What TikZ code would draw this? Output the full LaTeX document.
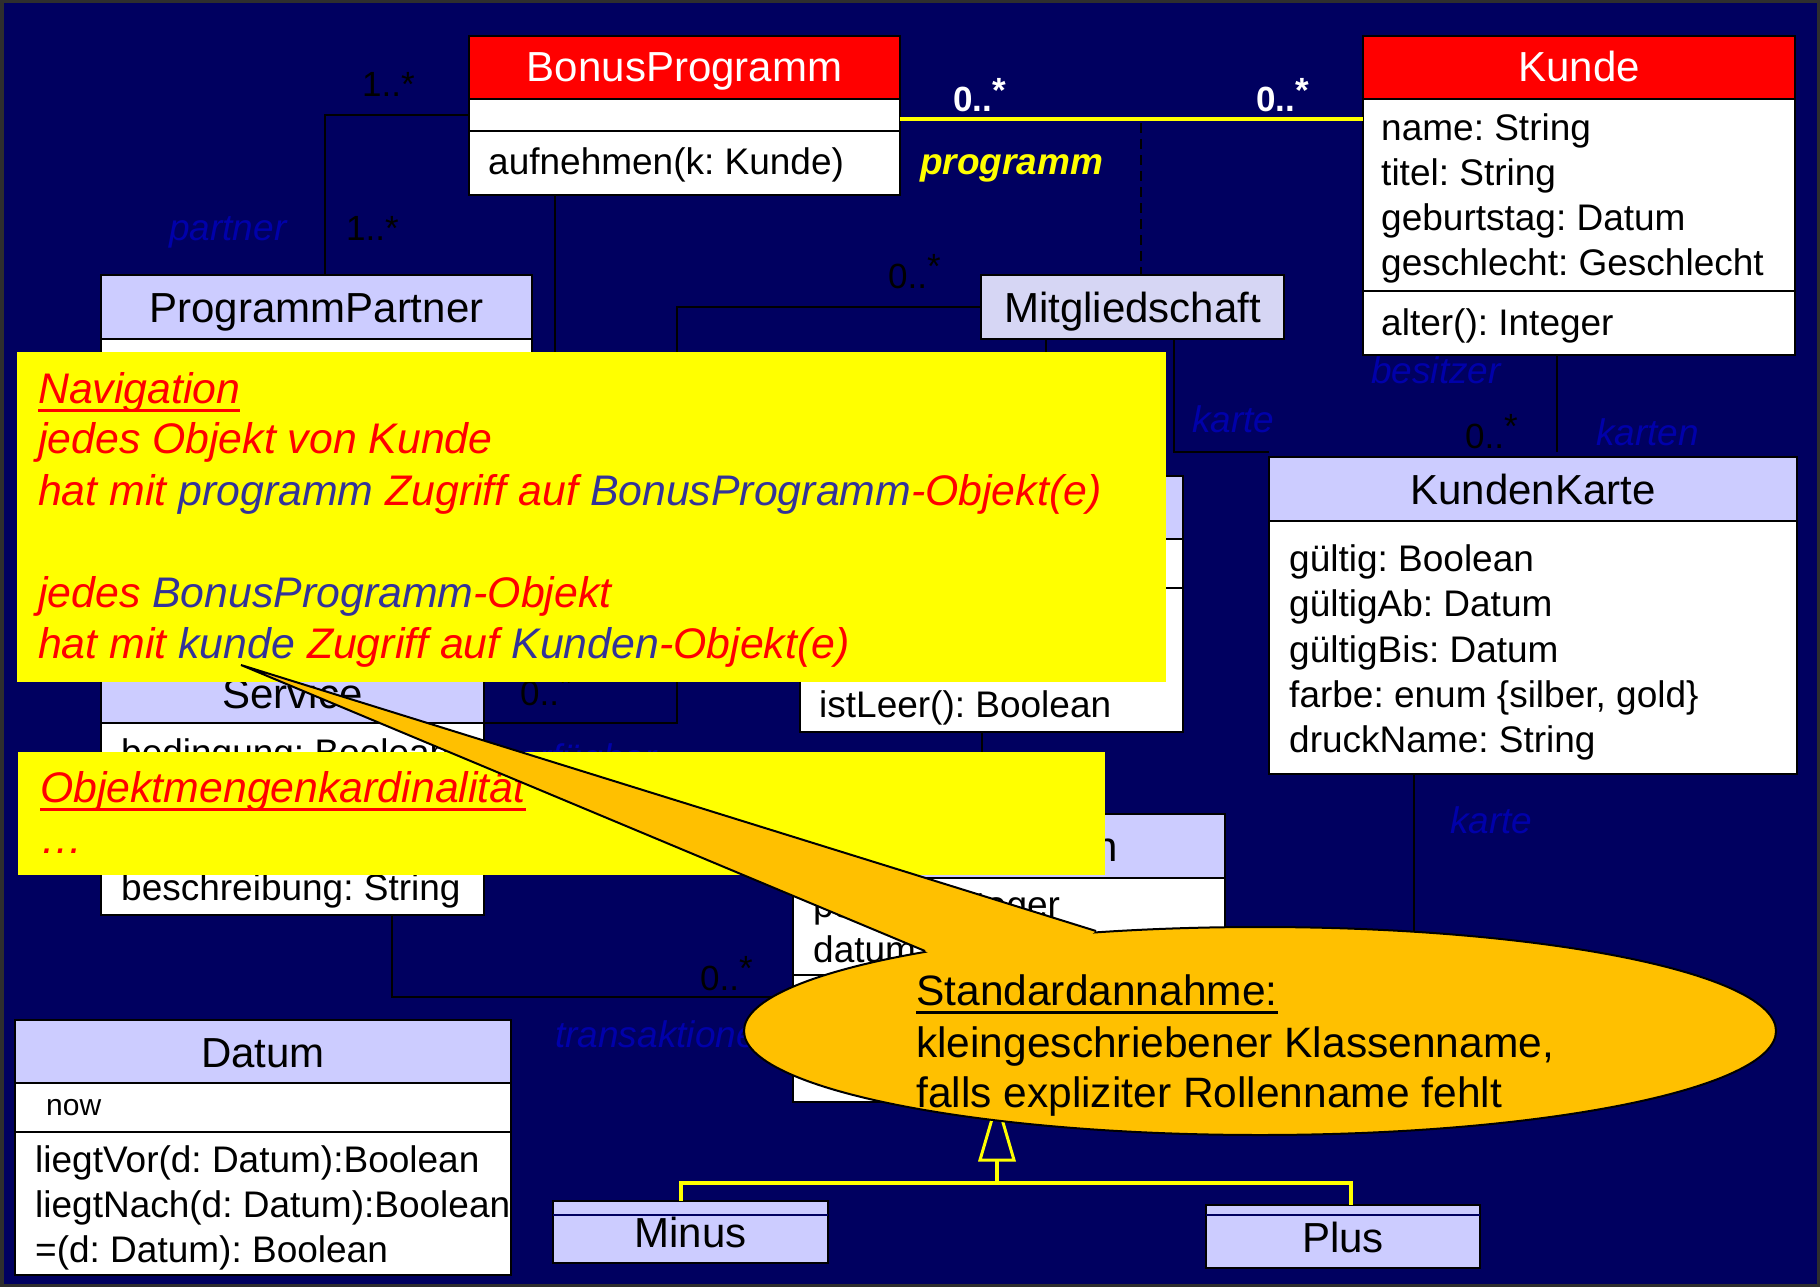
\documentclass[tikz,border=0pt]{standalone}
\usepackage{fontspec}
\setmainfont{Liberation Sans}
\usetikzlibrary{calc,shapes.geometric}
\frenchspacing

\definecolor{navy}{HTML}{000060}
\definecolor{hdrblue}{HTML}{CCCCFF}
\definecolor{mgblue}{HTML}{D6D6F4}
\definecolor{rolecol}{HTML}{0000AA}
\definecolor{txtblue}{HTML}{333399}
\definecolor{callout}{HTML}{FFC000}
\definecolor{notey}{HTML}{FFFF00}

% font size with tight leading
\newcommand{\fs}[1]{\fontsize{#1}{#1}\selectfont}
% thick underline in the current colour
\newcommand{\myul}[1]{\setbox0\hbox{#1}\rlap{\rule[-9pt]{\wd0}{3.5pt}}\box0}
% raised multiplicity star
\newcommand{\rs}{\raisebox{0.28em}{*}}
% one compartment of a class box: name, x, y, width, height, fill
\newcommand{\umlpart}[6]{\node[comp, fill=#6, minimum width=#4pt, minimum height=#5pt] (#1) at (#2,#3) {};}

\tikzset{
  comp/.style={draw=black, line width=2.5pt, anchor=north west, inner sep=0pt, outer sep=0pt},
  cname/.style={anchor=base, inner sep=0pt, font=\fs{42}},
  attr/.style={anchor=base west, inner sep=0pt, font=\fs{37}},
  mult/.style={anchor=base west, inner sep=0pt, font=\fs{35}},
  role/.style={anchor=base west, inner sep=0pt, font=\fs{37}\itshape, text=rolecol},
  assoc/.style={draw=black, line width=2.5pt},
  gen/.style={draw=notey, line width=4pt},
  note/.style={fill=notey, anchor=north west, inner sep=0pt, outer sep=0pt},
  notetxt/.style={anchor=base west, inner sep=0pt, font=\fs{42.8}\itshape, text=red},
  calltxt/.style={anchor=base west, inner sep=0pt, font=\fs{42.5}, text=black},
}

\begin{document}
\begin{tikzpicture}[x=1pt, y=-1pt]
\useasboundingbox (0,0) rectangle (1820,1287);
\fill[navy] (0,0) rectangle (1820,1287);
\draw[line width=7pt, black!82] (0,0) rectangle (1820,1287);

% ---------- classes ----------
% BonusProgramm
\umlpart{bpH}{469}{36}{431}{63}{red}
\umlpart{bpA}{469}{99}{431}{32}{white}
\umlpart{bpO}{469}{131}{431}{64}{white}
\node[cname, text=white] (bpN) at (684.5,82) {BonusProgramm};
\node[attr] (bpOp) at (488,175) {aufnehmen(k: Kunde)};

% Kunde
\umlpart{kuH}{1363}{36}{432}{63}{red}
\umlpart{kuA}{1363}{99}{432}{192}{white}
\umlpart{kuO}{1363}{291}{432}{64}{white}
\node[cname, text=white] (kuN) at (1579,82) {Kunde};
\node[attr] (kuA1) at (1381,140) {name: String};
\node[attr] (kuA2) at (1381,185) {titel: String};
\node[attr] (kuA3) at (1381,230) {geburtstag: Datum};
\node[attr] (kuA4) at (1381,275) {geschlecht: Geschlecht};
\node[attr] (kuOp) at (1381,335) {alter(): Integer};

% ProgrammPartner
\umlpart{ppH}{101}{275}{431}{64}{hdrblue}
\umlpart{ppA}{101}{339}{431}{120}{white}
\node[cname] (ppN) at (316.5,322) {ProgrammPartner};

% Mitgliedschaft
\umlpart{mg}{981}{275}{303}{64}{mgblue}
\node[cname] (mgN) at (1132.5,322) {Mitgliedschaft};

% class with istLeer()
\umlpart{pkH}{800}{476}{383}{63}{hdrblue}
\umlpart{pkA}{800}{539}{383}{49}{white}
\umlpart{pkO}{800}{588}{383}{144}{white}
\node[attr] (pkOp) at (819,717) {istLeer(): Boolean};

% KundenKarte
\umlpart{kkH}{1269}{457}{528}{64}{hdrblue}
\umlpart{kkA}{1269}{521}{528}{253}{white}
\node[cname] (kkN) at (1533,504) {KundenKarte};
\node[attr] (kkA1) at (1289,571) {gültig: Boolean};
\node[attr] (kkA2) at (1289,616) {gültigAb: Datum};
\node[attr] (kkA3) at (1289,662) {gültigBis: Datum};
\node[attr] (kkA4) at (1289,707) {farbe: enum \{silber, gold\}};
\node[attr] (kkA5) at (1289,752) {druckName: String};

% Service
\umlpart{svH}{101}{660}{383}{63}{hdrblue}
\umlpart{svA}{101}{723}{383}{192}{white}
\node[cname] (svN) at (292.5,708) {Service};
\node[attr] (svA1) at (121,765) {bedingung: Boolean};
\node[attr] (svA2) at (121,900) {beschreibung: String};

% Transaktion
\umlpart{trH}{793}{814}{432}{64}{hdrblue}
\umlpart{trA}{793}{878}{432}{97}{white}
\umlpart{trO}{793}{975}{432}{127}{white}
\node[cname] (trN) at (1009,861) {Transaktion};
\node[attr] (trA1) at (813,917) {punkte: Integer};
\node[attr] (trA2) at (813,962) {datum: Datum};

% Datum
\umlpart{dtH}{15}{1020}{496}{63}{hdrblue}
\umlpart{dtA}{15}{1083}{496}{49}{white}
\umlpart{dtO}{15}{1132}{496}{143}{white}
\node[cname] (dtN) at (263,1067) {Datum};
\node[attr, font=\fs{30}] (dtAt) at (46,1115) {now};
\node[attr] (dtO1) at (35,1172) {liegtVor(d: Datum):Boolean};
\node[attr] (dtO2) at (35,1217) {liegtNach(d: Datum):Boolean};
\node[attr] (dtO3) at (35,1262) {=(d: Datum): Boolean};

% Minus / Plus
\umlpart{mi}{553}{1201}{275}{62}{hdrblue}
\draw[navy, line width=1.5pt] ([yshift=-14pt]mi.north west) -- ([yshift=-14pt]mi.north east);
\node[cname] (miN) at (690.5,1247) {Minus};
\umlpart{pl}{1206}{1205}{274}{63}{hdrblue}
\draw[navy, line width=1.5pt] ([yshift=-10pt]pl.north west) -- ([yshift=-10pt]pl.north east);
\node[cname] (plN) at (1343,1252) {Plus};

% ---------- associations ----------
\draw[assoc] (bpA.west) -| ([xshift=224pt]ppH.north west);
\coordinate (bpDown) at ([xshift=86pt]bpO.south west);
\coordinate (bpEnd) at (555,560);
\draw[assoc] (bpDown) -- (bpEnd);

\draw[notey, line width=4.5pt] ([yshift=-4pt]bpA.east) -- ([yshift=-4pt]bpA.east -| kuA.west);
\coordinate (progMid) at (1141,123);
\draw[black, line width=2pt, dash pattern=on 10pt off 6pt] (progMid) -- (progMid |- mg.north);

\draw[assoc] (mg.west) -| ([xshift=193pt]svA.north east) -- (svA.north east);
\coordinate (m1) at ([xshift=65pt]mg.south west);
\draw[assoc] (m1) -- (m1 |- pkH.north);
\coordinate (m2) at ([xshift=193pt]mg.south west);
\draw[assoc] (m2) |- ([yshift=5pt]kkH.north west);
\coordinate (k1) at ([xshift=194pt]kuO.south west);
\draw[assoc] (k1) -- ([yshift=5pt]k1 |- kkH.north);
\coordinate (k2) at ([xshift=145pt]kkA.south west);
\draw[assoc] (k2) |- (trO.east);
\coordinate (p1) at ([xshift=182pt]pkO.south west);
\draw[assoc] (p1) -- (p1 |- trH.north);
\coordinate (s1) at ([xshift=291pt]svA.south west);
\draw[assoc] (s1) |- ([yshift=-22pt]trO.north west);

% generalization Minus/Plus -> Transaktion
\coordinate (g0) at ([xshift=204pt]trO.south west);
\coordinate (gb) at ([yshift=-58pt]g0);
\coordinate (gj) at ([yshift=-81pt]g0);
\draw[gen] ([xshift=128pt]mi.north west) |- (gj) -| ([xshift=145pt]pl.north west);
\draw[gen] (gb) -- (gj);
\draw[notey, line width=3pt, fill=navy] (g0) -- ++(17,58) -- ++(-34,0) -- cycle;

% ---------- multiplicities and roles ----------
\node[mult] (mu1) at (362,97) {1..*};
\node[mult] (mu2) at (346,240) {1..*};
\node[mult] (mu3) at (888,288) {0..\rs};
\node[mult] (mu4) at (520,705) {0..\rs};
\node[mult] (mu5) at (1465,448) {0..\rs};
\node[mult] (mu6) at (700,990) {0..\rs};
\node[mult, font=\fs{35}\bfseries, text=white] (mu7) at (953,112) {0..\rs};
\node[mult, font=\fs{35}\bfseries, text=white] (mu8) at (1256,112) {0..\rs};
\node[anchor=base west, inner sep=0pt, font=\fs{37}\bfseries\itshape, text=notey] (prog) at (920,175) {programm};

\node[role] (r1) at (169,240) {partner};
\node[role] (r2) at (1192,432) {karte};
\node[role] (r3) at (1371,383) {besitzer};
\node[role] (r4) at (1596,445) {karten};
\node[role] (r5) at (1450,833) {karte};
\node[role] (r6) at (555,1047) {transaktionen};
\node[role] (r7) at (500,770) {verfügbar};

% ---------- notes ----------
\node[note, minimum width=1149pt, minimum height=330pt] (n1) at (17,352) {};
\node[notetxt] (n1a) at (38,403) {\myul{Navigation}};
\node[notetxt] (n1b) at (38,453) {jedes Objekt von Kunde};
\node[notetxt] (n1c) at (38,505) {hat mit \textcolor{txtblue}{programm} Zugriff auf \textcolor{txtblue}{BonusProgramm}-Objekt(e)};
\node[notetxt] (n1d) at (38,607) {jedes \textcolor{txtblue}{BonusProgramm}-Objekt};
\node[notetxt] (n1e) at (38,658) {hat mit \textcolor{txtblue}{kunde} Zugriff auf \textcolor{txtblue}{Kunden}-Objekt(e)};

\node[note, minimum width=1087pt, minimum height=123pt] (n2) at (18,752) {};
\node[notetxt] (n2a) at (40,802) {\myul{Objektmengenkardinalität}};
\node[notetxt] (n2b) at (40,853) {…};

% ---------- callout ----------
\node[ellipse, draw=black, line width=2pt, fill=callout, minimum width=1032pt, minimum height=208pt, inner sep=0pt] (co) at (1260,1031) {};
\coordinate (tip) at (241,665);
\coordinate (cb1) at (925,951);
\coordinate (cb2) at (1096,931);
\fill[callout] (tip) -- (cb1) -- (1010,1000) -- (cb2) -- cycle;
\draw[black, line width=2pt] (cb1) -- (tip) -- (cb2);
\node[calltxt] (c1) at (916,1005) {\myul{Standardannahme:}};
\node[calltxt] (c2) at (916,1057) {kleingeschriebener Klassenname,};
\node[calltxt] (c3) at (916,1107) {falls expliziter Rollenname fehlt};
\end{tikzpicture}
\end{document}
